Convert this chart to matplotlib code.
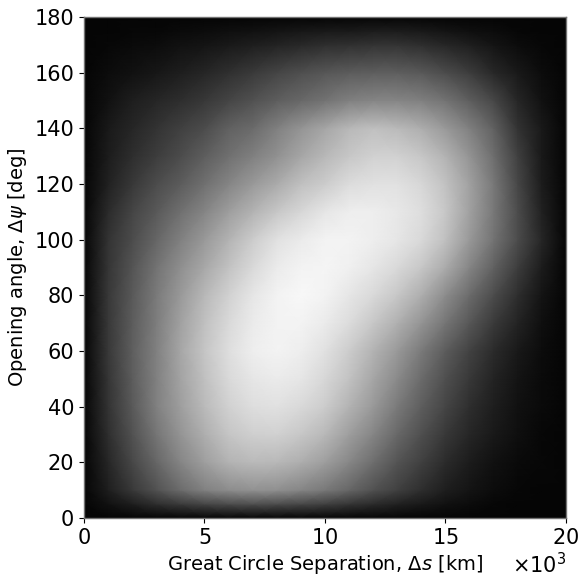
import numpy as np
import matplotlib
matplotlib.use("Agg")
import matplotlib.pyplot as plt

# Bin-centre coordinates of the gridded counts
separation_km = np.arange(0, 21) * 1000.0          # great circle separation, km
opening_deg = np.array([0, 5, 10, 20, 30, 40, 50, 60, 70, 80, 90,
                        100, 110, 120, 130, 140, 150, 160, 170, 175, 180])

# Normalised pair density, one row per opening angle (0 -> 180 deg),
# one column per separation (0 -> 20 000 km)
density = np.array([
    [0.02]*21,
    [0.02,0.07,0.12,0.18,0.23,0.27,0.30,0.31,0.30,0.28,0.25,0.21,0.17,0.13,0.10,0.07,0.05,0.03,0.02,0.02,0.02],
    [0.02,0.12,0.22,0.32,0.42,0.50,0.55,0.57,0.56,0.52,0.47,0.40,0.32,0.25,0.18,0.12,0.08,0.05,0.03,0.02,0.02],
    [0.02,0.15,0.28,0.40,0.52,0.62,0.70,0.73,0.72,0.68,0.62,0.53,0.43,0.33,0.25,0.17,0.11,0.07,0.04,0.03,0.02],
    [0.02,0.18,0.32,0.46,0.58,0.68,0.77,0.81,0.82,0.78,0.72,0.62,0.52,0.41,0.31,0.22,0.15,0.10,0.06,0.03,0.02],
    [0.02,0.20,0.35,0.50,0.62,0.73,0.82,0.87,0.88,0.85,0.80,0.70,0.60,0.48,0.37,0.27,0.18,0.12,0.07,0.04,0.02],
    [0.02,0.21,0.36,0.50,0.64,0.75,0.85,0.90,0.92,0.90,0.84,0.76,0.65,0.54,0.42,0.31,0.22,0.14,0.08,0.04,0.02],
    [0.02,0.22,0.37,0.50,0.65,0.77,0.87,0.93,0.95,0.93,0.88,0.80,0.70,0.60,0.48,0.36,0.26,0.17,0.10,0.05,0.02],
    [0.02,0.22,0.36,0.49,0.63,0.75,0.85,0.92,0.95,0.95,0.92,0.86,0.78,0.69,0.58,0.46,0.34,0.23,0.14,0.06,0.02],
    [0.02,0.22,0.35,0.48,0.60,0.72,0.82,0.90,0.95,0.97,0.95,0.90,0.85,0.78,0.68,0.55,0.42,0.30,0.18,0.08,0.02],
    [0.02,0.21,0.33,0.45,0.56,0.66,0.76,0.85,0.92,0.95,0.96,0.94,0.90,0.85,0.78,0.67,0.52,0.38,0.24,0.11,0.02],
    [0.02,0.20,0.30,0.40,0.50,0.60,0.70,0.80,0.88,0.92,0.95,0.95,0.93,0.90,0.85,0.75,0.60,0.45,0.30,0.15,0.02],
    [0.02,0.17,0.27,0.35,0.44,0.52,0.62,0.70,0.78,0.84,0.90,0.93,0.93,0.91,0.87,0.78,0.63,0.47,0.30,0.13,0.02],
    [0.02,0.13,0.22,0.30,0.36,0.44,0.52,0.60,0.67,0.75,0.80,0.86,0.88,0.88,0.84,0.76,0.63,0.47,0.28,0.11,0.02],
    [0.02,0.11,0.18,0.24,0.30,0.37,0.44,0.50,0.57,0.65,0.72,0.78,0.82,0.82,0.78,0.70,0.58,0.43,0.25,0.10,0.02],
    [0.02,0.10,0.15,0.20,0.25,0.30,0.38,0.42,0.50,0.58,0.65,0.72,0.75,0.73,0.68,0.60,0.50,0.38,0.20,0.10,0.02],
    [0.02,0.07,0.12,0.15,0.18,0.22,0.27,0.32,0.37,0.41,0.45,0.50,0.52,0.52,0.50,0.45,0.37,0.28,0.15,0.07,0.02],
    [0.02,0.05,0.07,0.09,0.12,0.15,0.19,0.23,0.27,0.31,0.34,0.36,0.37,0.37,0.35,0.30,0.24,0.16,0.10,0.05,0.02],
    [0.02,0.03,0.04,0.05,0.07,0.08,0.10,0.12,0.14,0.16,0.18,0.19,0.20,0.20,0.18,0.15,0.12,0.08,0.05,0.03,0.02],
    [0.02,0.02,0.03,0.03,0.04,0.05,0.06,0.07,0.08,0.09,0.10,0.10,0.11,0.11,0.10,0.08,0.06,0.05,0.03,0.02,0.02],
    [0.02]*21,
])

x_ticks = [0, 5000, 10000, 15000, 20000]
y_ticks = list(range(0, 181, 20))

fig = plt.figure(figsize=(5.78, 5.78), dpi=100)
ax = fig.add_axes([0.1453, 0.1038, 0.8337, 0.8668])

ax.pcolormesh(separation_km, opening_deg, density, cmap="gray",
              vmin=0, vmax=1, shading="gouraud", rasterized=True)

ax.set_xlim(0, 20000)
ax.set_ylim(0, 180)
ax.set_xticks(x_ticks)
ax.set_yticks(y_ticks)
ax.ticklabel_format(axis="x", style="sci", scilimits=(3, 3), useMathText=True)
ax.tick_params(labelsize=15)
ax.xaxis.get_offset_text().set_fontsize(15)

ax.set_xlabel(r"Great Circle Separation, $\Delta s$ [km]", fontsize=14)
ax.set_ylabel(r"Opening angle, $\Delta\psi$ [deg]", fontsize=14)

for sp in ax.spines.values():
    sp.set_color("0.45")
    sp.set_linewidth(1.0)

fig.savefig("out.png", dpi=100)
